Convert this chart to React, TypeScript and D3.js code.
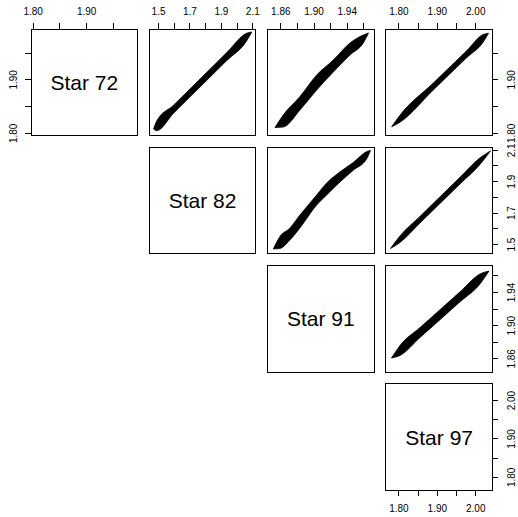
import React from "react";
import * as d3 from "d3";

// ---- variables (diagonal labels) ----
const stars = ["Star 72", "Star 82", "Star 91", "Star 97"];
// data range of each variable (axes add 4% on each side, as R does)
const dataMin = [1.8034, 1.4661, 1.8488, 1.7763];
const dataMax = [1.9877, 2.0939, 1.9676, 2.0331];

// ---- ticks and labelled ticks ----
const ticks72 = [1.8, 1.85, 1.9, 1.95];
const ticks82 = [1.5, 1.6, 1.7, 1.8, 1.9, 2.0, 2.1];
const ticks91 = [1.86, 1.88, 1.9, 1.92, 1.94, 1.96];
const ticks97 = [1.8, 1.85, 1.9, 1.95, 2.0];
const labels72 = [1.8, 1.9];
const labels82 = [1.5, 1.7, 1.9, 2.1];
const labels91 = [1.86, 1.9, 1.94];
const labels97 = [1.8, 1.9, 2.0];
const tickSets = [ticks72, ticks82, ticks91, ticks97];
const labelSets = [labels72, labels82, labels91, labels97];
const labelFormats = [".2f", ".1f", ".2f", ".2f"];

// ---- point clouds, read as bands (x, lower y, upper y) ----
// row Star 72, column Star 82
const b72_82x = [1.4678, 1.4881, 1.5939, 1.7639, 1.934, 2.0614, 2.0932];
const b72_82lo = [1.8081, 1.8051, 1.8373, 1.8866, 1.936, 1.9733, 1.9895];
const b72_82hi = [1.8081, 1.8231, 1.8523, 1.9016, 1.951, 1.9873, 1.9895];
// row Star 72, column Star 91
const b72_91x = [1.8529, 1.8629, 1.883, 1.9032, 1.9232, 1.9433, 1.9593, 1.9656];
const b72_91lo = [1.811, 1.8119, 1.8437, 1.8811, 1.9147, 1.9465, 1.9689, 1.9876];
const b72_91hi = [1.811, 1.8343, 1.8687, 1.9091, 1.9371, 1.9689, 1.9839, 1.9876];
// row Star 72, column Star 97
const b72_97x = [1.7811, 1.8027, 1.8894, 1.9764, 2.0196, 2.0332];
const b72_97lo = [1.8124, 1.8209, 1.8811, 1.9415, 1.9709, 1.987];
const b72_97hi = [1.8124, 1.8339, 1.8941, 1.9545, 1.9849, 1.987];
// row Star 82, column Star 91
const b82_91x = [1.8509, 1.8589, 1.871, 1.883, 1.9032, 1.9152, 1.9316, 1.9476, 1.9637, 1.968];
const b82_91lo = [1.4716, 1.475, 1.5291, 1.6057, 1.7517, 1.8157, 1.9001, 1.9742, 2.0483, 2.099];
const b82_91hi = [1.4716, 1.551, 1.6051, 1.6877, 1.8157, 1.8917, 1.9641, 2.0242, 2.0923, 2.099];
// row Star 82, column Star 97
const b82_97x = [1.778, 1.8027, 1.8548, 1.9069, 1.959, 2.011, 2.0384];
const b82_97lo = [1.4748, 1.513, 1.6372, 1.7614, 1.8856, 2.0098, 2.0958];
const b82_97hi = [1.4748, 1.555, 1.6792, 1.8034, 1.9276, 2.0518, 2.0958];
// row Star 91, column Star 97
const b91_97x = [1.7806, 1.8027, 1.8548, 1.9069, 1.959, 2.011, 2.0345];
const b91_97lo = [1.861, 1.8641, 1.8857, 1.9072, 1.9287, 1.9502, 1.9658];
const b91_97hi = [1.861, 1.8761, 1.8977, 1.9192, 1.9407, 1.9622, 1.9658];

const bands = [
  { row: 0, col: 1, x: b72_82x, lo: b72_82lo, hi: b72_82hi },
  { row: 0, col: 2, x: b72_91x, lo: b72_91lo, hi: b72_91hi },
  { row: 0, col: 3, x: b72_97x, lo: b72_97lo, hi: b72_97hi },
  { row: 1, col: 2, x: b82_91x, lo: b82_91lo, hi: b82_91hi },
  { row: 1, col: 3, x: b82_97x, lo: b82_97lo, hi: b82_97hi },
  { row: 2, col: 3, x: b91_97x, lo: b91_97lo, hi: b91_97hi },
];

const W = 518;
const H = 517;
const X0 = 31;
const Y0 = 29;
const STEP = 118.3;
const SIZE = 106.5;
const TICK = 6;
const FONT = "'Liberation Sans', Arial, Helvetica, sans-serif";

const domainOf = (v: number) => {
  const r = dataMax[v] - dataMin[v];
  return [dataMin[v] - 0.04 * r, dataMax[v] + 0.04 * r];
};
const left = (j: number) => X0 + STEP * j;
const top = (i: number) => Y0 + STEP * i;
const xScale = (j: number) =>
  d3.scaleLinear().domain(domainOf(j)).range([left(j), left(j) + SIZE]);
const yScale = (i: number) =>
  d3.scaleLinear().domain(domainOf(i)).range([top(i) + SIZE, top(i)]);

export default function App() {
  const n = stars.length;
  const panels: React.ReactNode[] = [];
  for (let i = 0; i < n; i++) {
    for (let j = i; j < n; j++) {
      panels.push(
        <rect
          key={`r${i}${j}`}
          x={left(j)}
          y={top(i)}
          width={SIZE}
          height={SIZE}
          fill="none"
          stroke="#000"
          strokeWidth={1}
          shapeRendering="crispEdges"
        />
      );
      if (i === j) {
        panels.push(
          <text
            key={`t${i}`}
            x={left(j) + SIZE / 2}
            y={top(i) + SIZE / 2 + 7.5}
            textAnchor="middle"
            fontFamily={FONT}
            fontSize={21}
            fill="#000"
          >
            {stars[i]}
          </text>
        );
      }
    }
  }

  const clouds = bands.map((b, k) => {
    const xs = xScale(b.col);
    const ys = yScale(b.row);
    const idx = d3.range(b.x.length);
    const area = d3
      .area<number>()
      .x((d) => xs(b.x[d]))
      .y0((d) => ys(b.lo[d]))
      .y1((d) => ys(b.hi[d]))
      .curve(d3.curveMonotoneX);
    return (
      <path
        key={`b${k}`}
        d={area(idx) || ""}
        fill="#000"
        stroke="#000"
        strokeWidth={0.8}
        strokeLinejoin="round"
      />
    );
  });

  const axes: React.ReactNode[] = [];
  // top axes (every column)
  for (let j = 0; j < n; j++) {
    const xs = xScale(j);
    const y = top(0);
    const fmt = d3.format(labelFormats[j]);
    tickSets[j].forEach((t, k) =>
      axes.push(
        <line key={`tt${j}${k}`} x1={xs(t)} x2={xs(t)} y1={y} y2={y - TICK} stroke="#000" shapeRendering="crispEdges" />
      )
    );
    labelSets[j].forEach((t, k) =>
      axes.push(
        <text key={`tl${j}${k}`} x={xs(t)} y={y - 14} textAnchor="middle" fontFamily={FONT} fontSize={10} fill="#000">
          {fmt(t)}
        </text>
      )
    );
  }
  // right axes (every row)
  for (let i = 0; i < n; i++) {
    const ys = yScale(i);
    const x = left(n - 1) + SIZE;
    const fmt = d3.format(labelFormats[i]);
    tickSets[i].forEach((t, k) =>
      axes.push(
        <line key={`rt${i}${k}`} x1={x} x2={x + TICK} y1={ys(t)} y2={ys(t)} stroke="#000" shapeRendering="crispEdges" />
      )
    );
    labelSets[i].forEach((t, k) =>
      axes.push(
        <text
          key={`rl${i}${k}`}
          transform={`translate(${x + 23},${ys(t)}) rotate(-90)`}
          textAnchor="middle"
          fontFamily={FONT}
          fontSize={10}
          fill="#000"
        >
          {fmt(t)}
        </text>
      )
    );
  }
  // left axis (first panel)
  {
    const ys = yScale(0);
    const x = left(0);
    const fmt = d3.format(labelFormats[0]);
    tickSets[0].forEach((t, k) =>
      axes.push(
        <line key={`lt${k}`} x1={x} x2={x - TICK} y1={ys(t)} y2={ys(t)} stroke="#000" shapeRendering="crispEdges" />
      )
    );
    labelSets[0].forEach((t, k) =>
      axes.push(
        <text
          key={`ll${k}`}
          transform={`translate(${x - 14},${ys(t)}) rotate(-90)`}
          textAnchor="middle"
          fontFamily={FONT}
          fontSize={10}
          fill="#000"
        >
          {fmt(t)}
        </text>
      )
    );
  }
  // bottom axis (last panel)
  {
    const j = n - 1;
    const xs = xScale(j);
    const y = top(n - 1) + SIZE;
    const fmt = d3.format(labelFormats[j]);
    tickSets[j].forEach((t, k) =>
      axes.push(
        <line key={`bt${k}`} x1={xs(t)} x2={xs(t)} y1={y} y2={y + TICK} stroke="#000" shapeRendering="crispEdges" />
      )
    );
    labelSets[j].forEach((t, k) =>
      axes.push(
        <text key={`bl${k}`} x={xs(t)} y={y + 22} textAnchor="middle" fontFamily={FONT} fontSize={10} fill="#000">
          {fmt(t)}
        </text>
      )
    );
  }

  return (
    <svg
      width={W}
      height={H}
      viewBox={`0 0 ${W} ${H}`}
      style={{ position: "absolute", left: 0, top: 0, background: "#fff" }}
    >
      <rect x={0} y={0} width={W} height={H} fill="#fff" />
      {clouds}
      {panels}
      {axes}
    </svg>
  );
}
